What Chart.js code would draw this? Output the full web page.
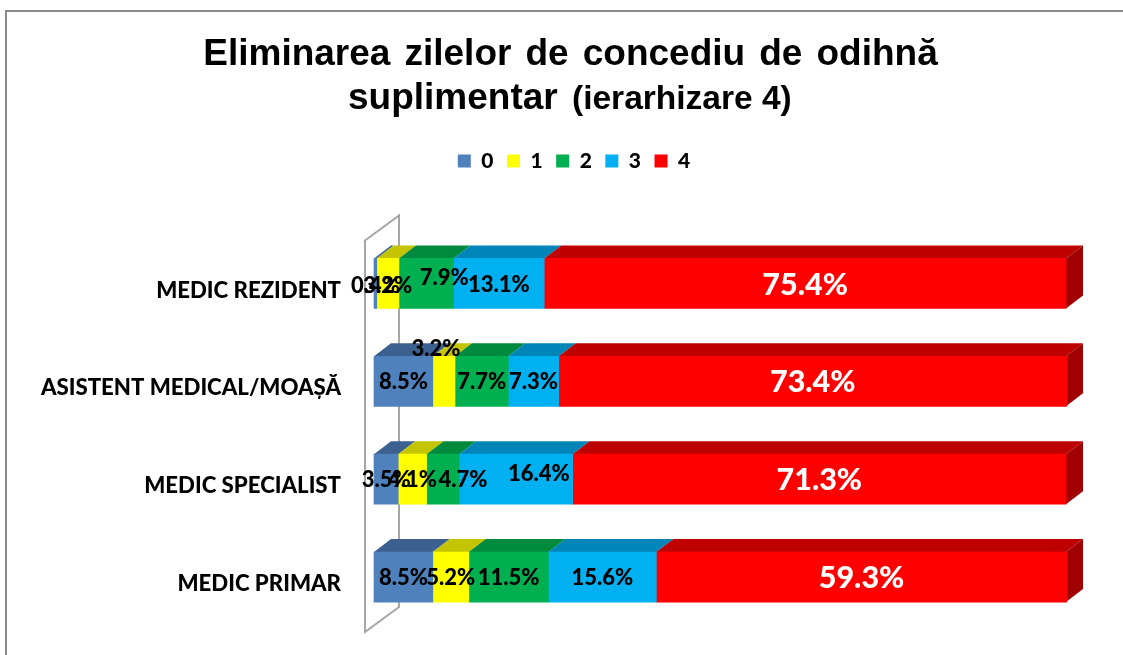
<!DOCTYPE html>
<html><head><meta charset="utf-8">
<style>html,body{margin:0;padding:0;background:#fff;overflow:hidden}#w{width:1123px;height:655px;position:relative}</style>
<script src="https://cdn.jsdelivr.net/npm/chart.js@4"></script>
</head><body><div id="w"><canvas id="c" width="1123" height="655"></canvas></div>
<script>
const categories = ['MEDIC REZIDENT','ASISTENT MEDICAL/MOAȘĂ','MEDIC SPECIALIST','MEDIC PRIMAR'];
const seriesNames = ['0','1','2','3','4'];
const s0 = [0.4, 8.5, 3.5, 8.5];
const s1 = [3.2, 3.2, 4.1, 5.2];
const s2 = [7.9, 7.7, 4.7, 11.5];
const s3 = [13.1, 7.3, 16.4, 15.6];
const s4 = [75.4, 73.4, 71.3, 59.3];
const seriesValues = [s0, s1, s2, s3, s4];
const titleLine1 = 'Eliminarea zilelor de concediu de odihnă';
const titleLine2a = 'suplimentar';
const titleLine2b = '(ierarhizare 4)';

const frontColors = ['#4F81BD','#FFFF00','#00B050','#00B0F0','#FF0000'];
const topColors = ['#3C6190','#C4C400','#008A3E','#0085B8','#BF0000'];
const sideColor = '#A00000';
const depthX = 17, depthY = 13;
// hand-placed data label nudges [dataset][row] as in the reference
const nudgeX = [[0,0,0,0],[0,-8,0,0],[18,0,20,0],[0,0,23,0],[0,0,0,0]];
const nudgeY = [[2,1,1,1],[2,-32,1,1],[-6,1,1,1],[1,1,-5,1],[2,1,1,1]];

const frame3d = {
  id:'frame3d',
  afterLayout(chart){
    const lg = chart.legend;
    lg.left += 31; lg.right += 31;
    lg.top -= 53; lg.bottom -= 53;
  },
  beforeDraw(chart){
    const c = chart.ctx; c.save();
    c.fillStyle='#fff'; c.fillRect(0,0,chart.width,chart.height);
    c.strokeStyle='#8C8C8C'; c.lineWidth=2;
    c.beginPath(); c.moveTo(6,655); c.lineTo(6,11); c.lineTo(1123,11); c.stroke();
    // title
    c.fillStyle='#000'; c.textBaseline='alphabetic'; c.textAlign='left';
    c.font='bold 37px "Liberation Sans"'; c.wordSpacing='3.8px';
    let w=c.measureText(titleLine1).width;
    c.fillText(titleLine1,570.5-w/2,65);
    c.wordSpacing='0px';
    c.fillText(titleLine2a,348,109);
    c.font='bold 33.5px "Liberation Sans"';
    c.fillText(titleLine2b,572,109);
    c.restore();
  },
  beforeDatasetsDraw(chart){
    const c = chart.ctx, a = chart.chartArea;
    c.save();
    // side wall
    c.strokeStyle='#A6A6A6'; c.lineWidth=2;
    c.beginPath();
    c.moveTo(a.left-9,a.top+6); c.lineTo(a.left+25,a.top-19);
    c.lineTo(a.left+25,a.bottom-19); c.lineTo(a.left-9,a.bottom+6); c.closePath(); c.stroke();
    chart.data.datasets.forEach((d,i)=>{
      chart.getDatasetMeta(i).data.forEach(el=>{
        const x0=el.base, x1=Math.min(el.x,a.right), t=el.y-el.height/2, b=el.y+el.height/2;
        c.fillStyle=topColors[i];
        c.beginPath(); c.moveTo(x0,t); c.lineTo(x1,t); c.lineTo(x1+depthX,t-depthY); c.lineTo(x0+depthX,t-depthY); c.closePath(); c.fill();
        if(i===chart.data.datasets.length-1){
          c.fillStyle=sideColor;
          c.beginPath(); c.moveTo(x1,t); c.lineTo(x1+depthX,t-depthY); c.lineTo(x1+depthX,b-depthY); c.lineTo(x1,b); c.closePath(); c.fill();
        }
      });
    });
    c.restore();
  },
  afterDatasetsDraw(chart){
    const c = chart.ctx;
    c.save(); c.textAlign='center'; c.textBaseline='middle';
    chart.data.datasets.forEach((d,i)=>{
      chart.getDatasetMeta(i).data.forEach((el,r)=>{
        const big = i===4;
        c.font = '900 '+(big?30.5:22)+'px Lato';
        c.fillStyle = big?'#fff':'#000';
        c.fillText(d.data[r].toFixed(1)+'%',(el.base+el.x)/2+nudgeX[i][r],el.y+nudgeY[i][r]);
      });
    });
    c.restore();
  }
};

new Chart(document.getElementById('c'),{
  type:'bar',
  data:{labels:categories,datasets:seriesNames.map((n,i)=>({
    label:n,data:seriesValues[i],backgroundColor:frontColors[i],borderWidth:0,barThickness:50,clip:false,stack:'a'}))},
  plugins:[frame3d],
  options:{
    indexAxis:'y',responsive:false,animation:false,
    layout:{padding:{left:20,right:57,top:190,bottom:29}},
    plugins:{
      title:{display:false},tooltip:{enabled:false},
      legend:{position:'top',labels:{boxWidth:13,boxHeight:13,padding:13.5,color:'#000',font:{family:'Lato',weight:'900',size:21}}}
    },
    scales:{
      x:{display:false,stacked:true,min:0,max:100},
      y:{stacked:true,grid:{display:false},border:{display:false},
        afterFit(s){s.width=354;s.paddingTop=0;s.paddingBottom=0;},
        ticks:{padding:25,labelOffset:7,color:'#000',font:{family:'Lato',weight:'900',size:22.2},autoSkip:false}}
    }
  }
});
</script></body></html>
